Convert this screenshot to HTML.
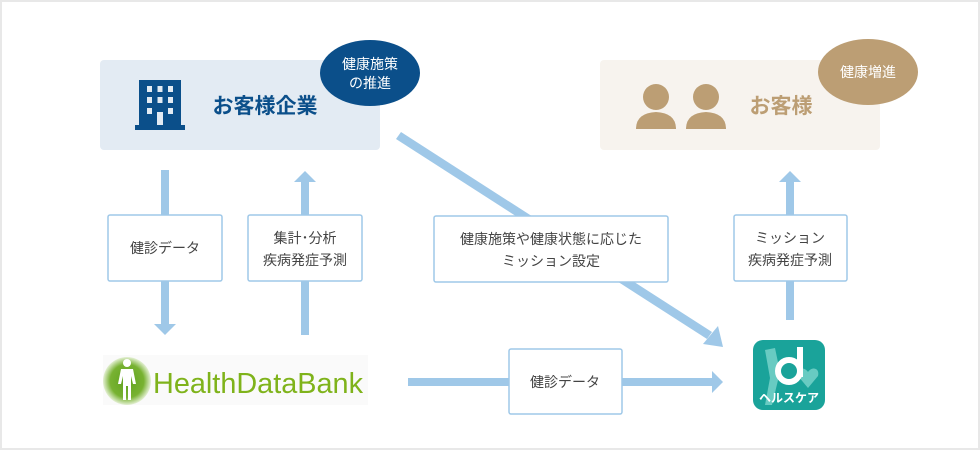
<!DOCTYPE html>
<html><head><meta charset="utf-8"><style>
html,body{margin:0;padding:0;background:#fff}
svg{display:block}
text{font-family:"Liberation Sans","Noto Sans CJK JP",sans-serif}
</style></head><body>
<svg width="980" height="450" viewBox="0 0 980 450" xmlns="http://www.w3.org/2000/svg">
<rect x="1" y="1" width="978" height="448" fill="#fff" stroke="#e8e8e8" stroke-width="2"/>
<!-- box 1 -->
<rect x="100" y="60" width="280" height="90" rx="4" fill="#e3ebf3"/>
<g fill="#0b4f8a">
<rect x="139" y="80" width="42" height="46"/>
<rect x="135" y="125" width="50" height="5"/>
</g>
<g fill="#e3ebf3">
<rect x="147" y="86" width="5" height="6"/><rect x="157.5" y="86" width="5" height="6"/><rect x="168" y="86" width="5" height="6"/>
<rect x="147" y="97" width="5" height="6"/><rect x="157.5" y="97" width="5" height="6"/><rect x="168" y="97" width="5" height="6"/>
<rect x="147" y="108" width="5" height="6"/><rect x="168" y="108" width="5" height="6"/>
<rect x="157" y="112" width="6" height="13"/>
</g>
<text x="265" y="113" font-size="21" font-weight="bold" fill="#0b4f8a" text-anchor="middle">お客様企業</text>
<ellipse cx="370" cy="73" rx="50" ry="33" fill="#0b4f8a"/>
<text x="370" y="69" font-size="14" fill="#fff" text-anchor="middle">健康施策</text>
<text x="370" y="88" font-size="14" fill="#fff" text-anchor="middle">の推進</text>
<!-- box 2 -->
<rect x="600" y="60" width="280" height="90" rx="4" fill="#f7f3ee"/>
<g fill="#bc9e74">
<circle cx="656" cy="97" r="13"/><path d="M636 129 Q636 113 656 112 Q676 113 676 129 Z"/>
<circle cx="706" cy="97" r="13"/><path d="M686 129 Q686 113 706 112 Q726 113 726 129 Z"/>
</g>
<text x="781" y="113" font-size="21" font-weight="bold" fill="#bc9e74" text-anchor="middle">お客様</text>
<ellipse cx="868" cy="72" rx="50" ry="33" fill="#bc9e74"/>
<text x="868" y="77" font-size="14" fill="#fff" text-anchor="middle">健康増進</text>
<!-- arrows -->
<g fill="#9fc8e8">
<rect x="161" y="170" width="8" height="155"/><polygon points="154,324 176,324 165,335"/>
<rect x="301" y="181" width="8" height="154"/><polygon points="294,182 316,182 305,171"/>
<rect x="786" y="181" width="8" height="139"/><polygon points="779,182 801,182 790,171"/>
<rect x="408" y="378" width="306" height="8"/><polygon points="712,371 712,393 723,382"/>
<polygon points="396,139 401,132 712,332 707,339"/><polygon points="703,344 718,326 723,347"/>
</g>
<!-- labels -->
<g fill="#fff" stroke="#9fc8e8" stroke-width="1.5">
<rect x="108" y="215" width="114" height="66" rx="2"/>
<rect x="248" y="215" width="114" height="66" rx="2"/>
<rect x="434" y="216" width="234" height="66" rx="2"/>
<rect x="734" y="215" width="113" height="66" rx="2"/>
<rect x="509" y="349" width="113" height="65" rx="2"/>
</g>
<g font-size="14" fill="#444" text-anchor="middle">
<text x="165" y="253">健診データ</text>
<text x="305" y="243">集計･分析</text><text x="305" y="265">疾病発症予測</text>
<text x="551" y="244">健康施策や健康状態に応じた</text><text x="551" y="266">ミッション設定</text>
<text x="790" y="243">ミッション</text><text x="790" y="265">疾病発症予測</text>
<text x="565" y="387">健診データ</text>
</g>
<!-- HealthDataBank -->
<defs><radialGradient id="g"><stop offset="0" stop-color="#5fa21d"/><stop offset="0.7" stop-color="#78b232"/><stop offset="1" stop-color="#e4f0d4"/></radialGradient></defs>
<rect x="103" y="355" width="265" height="50" fill="#fafafa"/>
<circle cx="127" cy="381" r="24" fill="url(#g)"/>
<g fill="#fff"><circle cx="127" cy="363" r="4"/><path d="M121 369 H133 L136 384 H133 L131 376 V400 H128 V386 H126 V400 H123 V376 L121 384 H118 Z"/></g>
<text x="153" y="393" font-size="29" fill="#7fb31b" textLength="210" lengthAdjust="spacingAndGlyphs">HealthDataBank</text>
<!-- app icon -->
<rect x="753" y="340" width="72" height="70" rx="10" fill="#1aa39a"/>
<path d="M765 350 L775 348 L780 372 L772 405 L765 405 L770 378 Z" fill="#68cbc2"/>
<path d="M808 372 C804 366 796 368 798 376 L808 388 L818 376 C820 368 812 366 808 372Z" fill="#68cbc2"/>
<circle cx="789" cy="371" r="11" fill="none" stroke="#fff" stroke-width="6"/>
<rect x="797" y="347" width="6" height="30" fill="#fff"/>
<text x="789" y="402" font-size="12" font-weight="bold" fill="#fff" text-anchor="middle">ヘルスケア</text>
</svg>
</body></html>
